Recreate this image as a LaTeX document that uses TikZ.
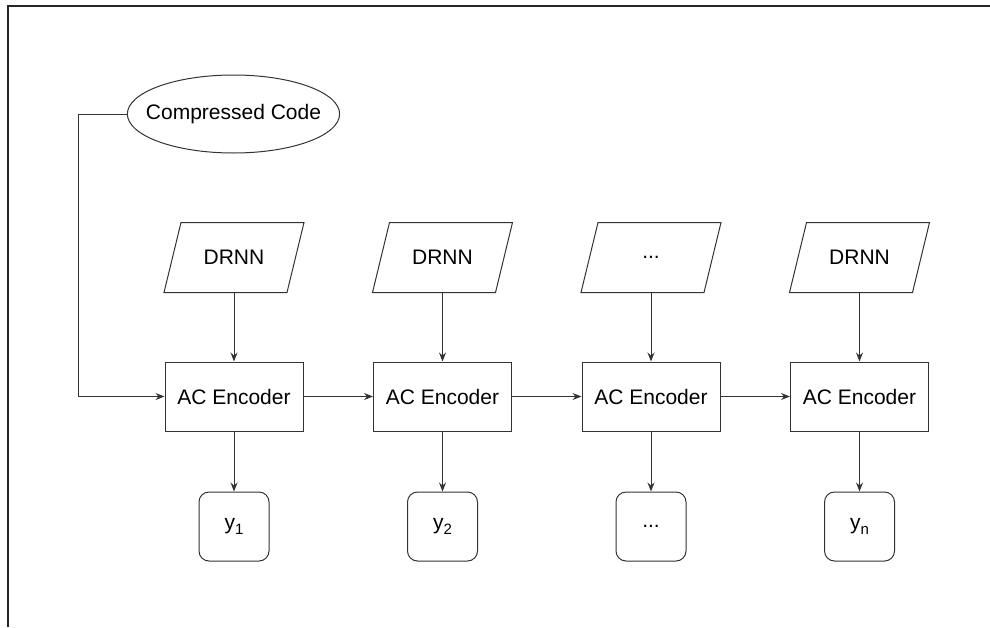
\documentclass[tikz,border=0pt]{standalone}
\usepackage{fontspec}
\setmainfont{Liberation Sans}
\usetikzlibrary{shapes.geometric,arrows.meta}
\definecolor{ln}{HTML}{333333}
\newcommand{\subidx}[1]{\raisebox{-5pt}{\fontsize{15}{15}\selectfont #1}}
\begin{document}
\begin{tikzpicture}[x=1pt,y=-1pt,
  font=\fontsize{21}{24}\selectfont,
  line width=1pt,
  enc/.style={draw=ln, rectangle, minimum width=138pt, minimum height=69pt, inner sep=0pt},
  outbox/.style={draw=ln, rectangle, rounded corners=10pt, minimum width=70pt, minimum height=69pt, inner sep=0pt},
  para/.style={rectangle, minimum width=139pt, minimum height=69pt, inner sep=0pt},
  code/.style={draw=ln, ellipse, minimum height=78pt, inner xsep=-12.5pt, inner ysep=0pt},
  arr/.style={draw=ln, -{Stealth[length=9pt,width=7pt,inset=3pt]}},
  frameline/.style={draw=black!85, line width=1.2pt}
]
\useasboundingbox (0,0) rectangle (990,627);
\coordinate (fa) at (8,627);
\coordinate (fb) at (8,6);
\coordinate (fc) at (990,6);
\draw[frameline] (fa) -- (fb) -- (fc);

\node[code] (cc) at (233.5,114) {Compressed Code};

\foreach \i/\x/\t/\y in {1/234/DRNN/{y\subidx{1}},2/442.5/DRNN/{y\subidx{2}},3/651/{...}/{...},4/859.5/DRNN/{y\subidx{n}}}{
  \node[para] (d\i) at (\x,257.5) {\t};
  \draw[ln] (d\i.south west) -- ([xshift=-17pt]d\i.south east) -- (d\i.north east) -- ([xshift=17pt]d\i.north west) -- cycle;
  \node[enc] (e\i) at (\x,396.5) {AC Encoder};
  \node[outbox] (o\i) at (\x,526.5) {\y};
  \draw[arr] (d\i.south) -- (e\i.north);
  \draw[arr] (e\i.south) -- (o\i.north);
}
\draw[arr] (e1.east) -- (e2.west);
\draw[arr] (e2.east) -- (e3.west);
\draw[arr] (e3.east) -- (e4.west);

\coordinate (k1) at (78,114);
\coordinate (k2) at (78,396.5);
\draw[arr] (cc.west) -- (k1) -- (k2) -- (e1.west);
\end{tikzpicture}
\end{document}
